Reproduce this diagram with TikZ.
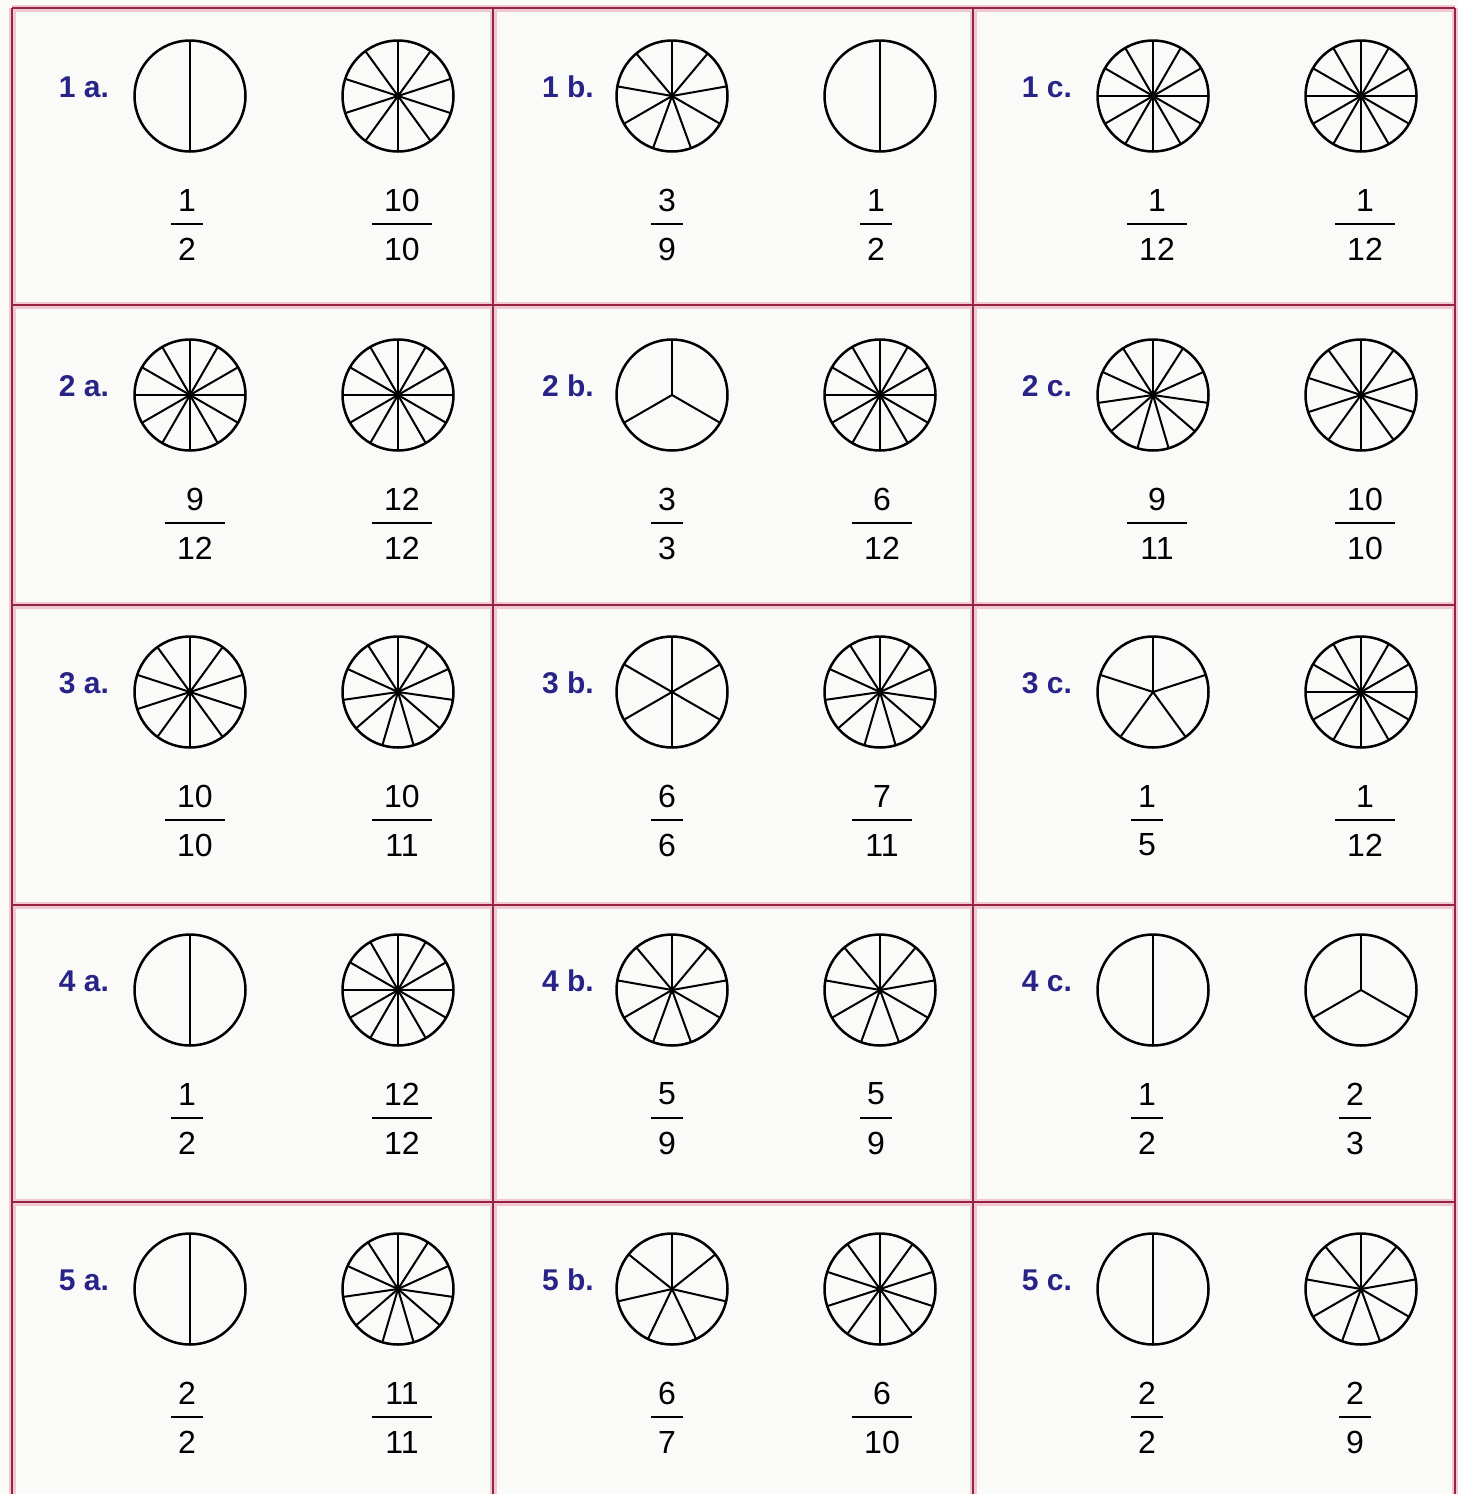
\documentclass[tikz,border=0pt]{standalone}
\usepackage{fontspec}
\setmainfont{Liberation Sans}
\definecolor{gridc}{RGB}{150,35,65}
\definecolor{gridhalo}{RGB}{240,200,210}
\definecolor{lblc}{RGB}{40,35,135}
\definecolor{bgc}{RGB}{250,250,248}
\tikzset{
 piecirc/.style={circle,draw,line width=2.5pt,minimum size=111pt,inner sep=0pt},
 spoke/.style={line width=2pt},
 digit/.style={inner sep=0pt,font=\fontsize{32}{38}\selectfont},
 fracbar/.style={fill=black,inner sep=0pt,minimum height=2.2pt},
 lbl/.style={inner sep=0pt,text=lblc,font=\fontsize{30}{36}\selectfont\bfseries},
 gridline/.style={line width=2.5pt,draw=gridc},
 halo/.style={line width=7pt,draw=gridhalo}
}
\newcommand\mypie[4]{%
 \node[piecirc] (#1) at (#2,#3) {};
 \foreach \k in {1,...,#4}{
   \pgfmathsetmacro\ang{90-360*(\k-1)/#4}
   \draw[spoke] (#1.center) -- +(\ang:55.5pt);
 }
}
\newcommand\myfrac[5]{%
 \pgfmathsetmacro\bw{#5>9 ? 60 : 32}
 \node[digit] (#1n) at (#2,#3+104) {#4};
 \node[fracbar,minimum width=\bw pt] (#1b) at (#2,#3+128) {};
 \node[digit] (#1d) at (#2,#3+153) {#5};
}
\newcommand\mylbl[4]{%
 \node[lbl] (#1) at (#2,#3-9) {#4};
}
\newcommand\mycell[9]{% name, row y, label x, label, x1, n1, x2, n2, (unused)
}
\begin{document}
\begin{tikzpicture}[x=1pt,y=-1pt]
\useasboundingbox (0,0) rectangle (1458,1494);
\fill[bgc] (0,0) rectangle (1458,1494);
% grid
\foreach \gx in {12,493,973,1455}{\draw[halo] (\gx,8) -- (\gx,1500);}
\foreach \gy in {8,305,605,905,1202}{\draw[halo] (12,\gy) -- (1455,\gy);}
\foreach \gx in {12,493,973,1455}{\draw[gridline] (\gx,8) -- (\gx,1500);}
\foreach \gy in {8,305,605,905,1202}{\draw[gridline] (12,\gy) -- (1455,\gy);}
% Row 1
\mylbl{l1a}{84}{96}{1 a.}
\mypie{p1a1}{190}{96}{2} \mypie{p1a2}{398}{96}{10}
\myfrac{f1a1}{187}{96}{1}{2} \myfrac{f1a2}{402}{96}{10}{10}
\mylbl{l1b}{568}{96}{1 b.}
\mypie{p1b1}{672}{96}{9} \mypie{p1b2}{880}{96}{2}
\myfrac{f1b1}{667}{96}{3}{9} \myfrac{f1b2}{876}{96}{1}{2}
\mylbl{l1c}{1047}{96}{1 c.}
\mypie{p1c1}{1153}{96}{12} \mypie{p1c2}{1361}{96}{12}
\myfrac{f1c1}{1157}{96}{1}{12} \myfrac{f1c2}{1365}{96}{1}{12}
% Row 2
\mylbl{l2a}{84}{395}{2 a.}
\mypie{p2a1}{190}{395}{12} \mypie{p2a2}{398}{395}{12}
\myfrac{f2a1}{195}{395}{9}{12} \myfrac{f2a2}{402}{395}{12}{12}
\mylbl{l2b}{568}{395}{2 b.}
\mypie{p2b1}{672}{395}{3} \mypie{p2b2}{880}{395}{12}
\myfrac{f2b1}{667}{395}{3}{3} \myfrac{f2b2}{882}{395}{6}{12}
\mylbl{l2c}{1047}{395}{2 c.}
\mypie{p2c1}{1153}{395}{11} \mypie{p2c2}{1361}{395}{10}
\myfrac{f2c1}{1157}{395}{9}{11} \myfrac{f2c2}{1365}{395}{10}{10}
% Row 3
\mylbl{l3a}{84}{692}{3 a.}
\mypie{p3a1}{190}{692}{10} \mypie{p3a2}{398}{692}{11}
\myfrac{f3a1}{195}{692}{10}{10} \myfrac{f3a2}{402}{692}{10}{11}
\mylbl{l3b}{568}{692}{3 b.}
\mypie{p3b1}{672}{692}{6} \mypie{p3b2}{880}{692}{11}
\myfrac{f3b1}{667}{692}{6}{6} \myfrac{f3b2}{882}{692}{7}{11}
\mylbl{l3c}{1047}{692}{3 c.}
\mypie{p3c1}{1153}{692}{5} \mypie{p3c2}{1361}{692}{12}
\myfrac{f3c1}{1147}{692}{1}{5} \myfrac{f3c2}{1365}{692}{1}{12}
% Row 4
\mylbl{l4a}{84}{990}{4 a.}
\mypie{p4a1}{190}{990}{2} \mypie{p4a2}{398}{990}{12}
\myfrac{f4a1}{187}{990}{1}{2} \myfrac{f4a2}{402}{990}{12}{12}
\mylbl{l4b}{568}{990}{4 b.}
\mypie{p4b1}{672}{990}{9} \mypie{p4b2}{880}{990}{9}
\myfrac{f4b1}{667}{990}{5}{9} \myfrac{f4b2}{876}{990}{5}{9}
\mylbl{l4c}{1047}{990}{4 c.}
\mypie{p4c1}{1153}{990}{2} \mypie{p4c2}{1361}{990}{3}
\myfrac{f4c1}{1147}{990}{1}{2} \myfrac{f4c2}{1355}{990}{2}{3}
% Row 5
\mylbl{l5a}{84}{1289}{5 a.}
\mypie{p5a1}{190}{1289}{2} \mypie{p5a2}{398}{1289}{11}
\myfrac{f5a1}{187}{1289}{2}{2} \myfrac{f5a2}{402}{1289}{11}{11}
\mylbl{l5b}{568}{1289}{5 b.}
\mypie{p5b1}{672}{1289}{7} \mypie{p5b2}{880}{1289}{10}
\myfrac{f5b1}{667}{1289}{6}{7} \myfrac{f5b2}{882}{1289}{6}{10}
\mylbl{l5c}{1047}{1289}{5 c.}
\mypie{p5c1}{1153}{1289}{2} \mypie{p5c2}{1361}{1289}{9}
\myfrac{f5c1}{1147}{1289}{2}{2} \myfrac{f5c2}{1355}{1289}{2}{9}
\end{tikzpicture}
\end{document}
